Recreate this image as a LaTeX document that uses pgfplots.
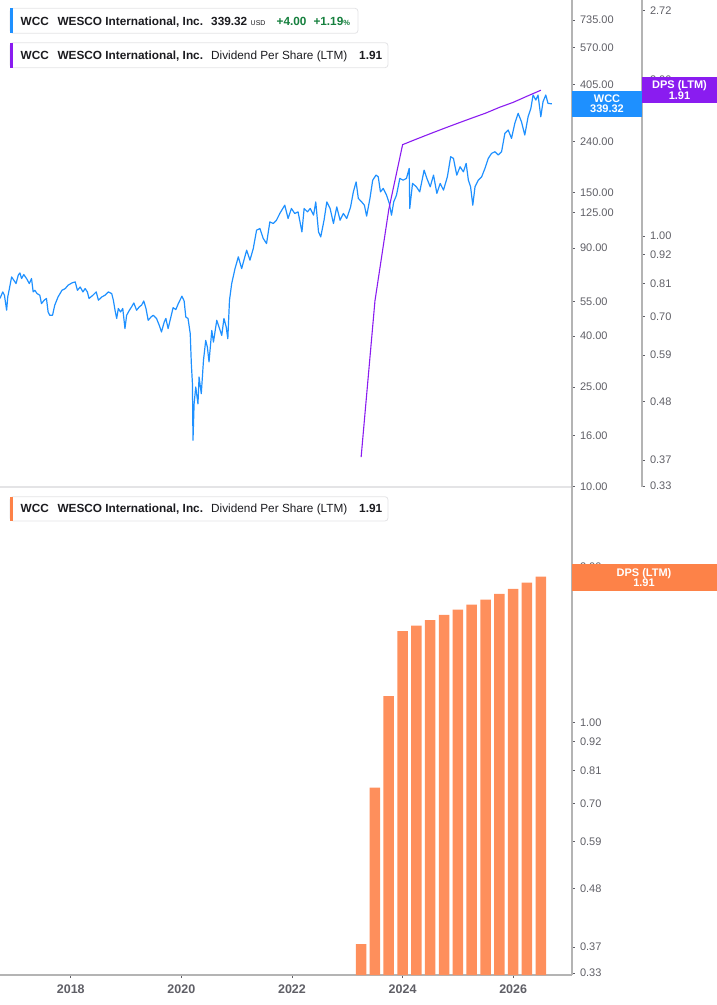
\documentclass[border=0pt]{standalone}
\usepackage{pgfplots}
\usepackage{pgfplotstable}
\pgfplotsset{compat=1.18}
\usepackage{fontspec}
\setmainfont{Liberation Sans}

\definecolor{wblue}{RGB}{30,144,255}
\definecolor{dpspurple}{RGB}{138,28,240}
\definecolor{baror}{RGB}{254,143,92}
\definecolor{boxor}{RGB}{253,130,72}
\definecolor{axgray}{RGB}{180,180,180}
\definecolor{lblgray}{RGB}{95,95,102}
\definecolor{upgreen}{RGB}{22,128,62}
\definecolor{txt}{RGB}{28,28,32}
\definecolor{boxline}{RGB}{228,228,230}

% WCC share price (USD)
\pgfplotstableread{
year price
2016.72 56.5
2016.77 60.0
2016.80 58.2
2016.84 50.7
2016.86 57.3
2016.89 61.9
2016.93 68.9
2016.97 66.8
2017.01 64.8
2017.05 70.0
2017.08 71.5
2017.11 67.9
2017.15 70.4
2017.20 67.9
2017.25 64.8
2017.29 67.9
2017.32 60.0
2017.35 60.9
2017.39 59.1
2017.44 58.2
2017.47 53.9
2017.52 55.6
2017.56 56.5
2017.59 49.9
2017.62 48.4
2017.67 48.4
2017.71 53.1
2017.77 57.3
2017.84 60.9
2017.90 61.9
2017.95 63.8
2018.02 65.2
2018.08 65.8
2018.12 60.9
2018.17 62.8
2018.22 60.0
2018.26 61.9
2018.30 60.0
2018.33 56.5
2018.40 58.2
2018.46 60.0
2018.50 55.6
2018.56 57.3
2018.62 58.2
2018.68 60.0
2018.74 59.1
2018.77 55.6
2018.80 50.7
2018.83 47.0
2018.86 51.5
2018.90 49.9
2018.94 51.5
2018.98 42.8
2019.01 48.4
2019.06 50.7
2019.10 52.3
2019.14 54.2
2019.19 50.7
2019.24 52.3
2019.28 53.1
2019.32 55.2
2019.36 51.5
2019.40 46.2
2019.45 47.6
2019.49 48.4
2019.55 47.0
2019.60 44.1
2019.64 41.5
2019.69 45.5
2019.72 47.0
2019.76 42.8
2019.81 47.6
2019.85 51.9
2019.90 51.0
2019.94 53.6
2020.01 57.7
2020.05 55.2
2020.08 47.6
2020.12 47.0
2020.16 40.9
2020.18 31.0
2020.20 25.8
2020.21 15.3
2020.23 21.4
2020.26 25.0
2020.30 21.4
2020.32 27.4
2020.36 23.5
2020.40 32.0
2020.44 38.4
2020.47 36.1
2020.50 31.5
2020.55 42.1
2020.58 37.8
2020.64 46.2
2020.68 43.5
2020.73 40.2
2020.77 47.0
2020.81 43.5
2020.84 39.0
2020.87 55.6
2020.91 64.8
2020.97 74.4
2021.03 82.9
2021.09 74.4
2021.18 88.1
2021.24 80.4
2021.30 89.5
2021.36 106.0
2021.42 107.6
2021.48 98.2
2021.54 93.7
2021.60 114.4
2021.66 112.7
2021.72 116.2
2021.78 123.6
2021.87 133.4
2021.93 118.0
2021.99 129.4
2022.05 123.6
2022.11 125.5
2022.18 104.3
2022.22 129.4
2022.28 125.5
2022.33 129.4
2022.39 121.7
2022.43 137.5
2022.48 104.3
2022.52 99.6
2022.58 116.2
2022.63 137.5
2022.69 129.4
2022.75 112.7
2022.81 131.3
2022.87 116.2
2022.93 123.6
2022.99 118.0
2023.06 131.3
2023.11 150.8
2023.16 165.4
2023.20 142.0
2023.26 137.5
2023.31 133.4
2023.35 120.6
2023.41 142.0
2023.46 168.0
2023.52 176.0
2023.56 173.3
2023.60 150.8
2023.65 155.7
2023.71 146.4
2023.76 135.6
2023.80 121.7
2023.84 137.5
2023.89 146.4
2023.95 170.7
2024.01 168.0
2024.07 170.7
2024.12 187.2
2024.13 129.4
2024.18 163.0
2024.25 158.0
2024.31 150.8
2024.39 184.3
2024.44 170.7
2024.50 158.0
2024.56 176.0
2024.62 148.7
2024.68 163.0
2024.74 153.3
2024.81 173.3
2024.87 208.4
2024.92 205.3
2024.98 176.0
2025.04 190.0
2025.10 181.4
2025.15 196.1
2025.19 168.0
2025.23 158.0
2025.27 133.4
2025.31 158.0
2025.37 168.0
2025.43 173.3
2025.49 187.2
2025.55 205.3
2025.61 215.0
2025.67 218.2
2025.73 211.7
2025.79 218.2
2025.85 258.5
2025.91 266.5
2025.97 246.9
2026.03 283.5
2026.09 310.9
2026.15 287.7
2026.21 254.5
2026.27 301.2
2026.32 325.6
2026.36 368.0
2026.41 351.4
2026.45 368.0
2026.50 301.3
2026.54 345.9
2026.59 368.0
2026.63 340.9
2026.70 339.32
}\pricetable

% Dividend per share, last twelve months
\pgfplotstableread{
year dps
2023.25 0.375
2023.50 0.75
2023.75 1.125
2024.00 1.50
2024.25 1.5375
2024.50 1.575
2024.75 1.6125
2025.00 1.65
2025.25 1.6875
2025.50 1.725
2025.75 1.77
2026.00 1.81
2026.25 1.86
2026.50 1.91
}\dpstable

\pgfplotsset{
  rightax/.style={
    scale only axis,
    xmin=2016.72,
    y axis line style={-, draw=axgray, line width=1.6pt},
    tick align=outside,
    major tick length=3pt,
    ytick style={draw=lblgray, line width=0.8pt},
    yticklabel style={font=\fontsize{11}{12}\selectfont, text=lblgray, anchor=west, xshift=1.5pt},
  },
}

\begin{document}
\begin{tikzpicture}[x=1pt,y=1pt]
\useasboundingbox (0,0) rectangle (717,-1005);

% top panel, share price
\begin{axis}[rightax,
  ymode=log,
  axis y line*=right,
  axis x line=none,
  at={(0pt,0pt)}, anchor=north west,
  width=572pt, height=487pt,
  xmax=2027.064,
  ymin=9.95, ymax=883,
  ytick={10,16,25,40,55,90,125,150,240,405,570,735},
  yticklabels={10.00,16.00,25.00,40.00,55.00,90.00,125.00,150.00,240.00,405.00,570.00,735.00},
]
\addplot[wblue, line width=1.2pt, line join=round] table[x=year, y=price] {\pricetable};
\end{axis}

% top panel, dividend per share line on its own scale
\begin{axis}[rightax,
  ymode=log,
  axis y line*=right,
  axis x line=none,
  at={(0pt,0pt)}, anchor=north west,
  width=642pt, height=487pt,
  xmax=2028.329,
  ymin=0.3284, ymax=2.85,
  ytick={0.33,0.37,0.48,0.59,0.70,0.81,0.92,1.00,2.00,2.72},
  yticklabels={0.33,0.37,0.48,0.59,0.70,0.81,0.92,1.00,2.00,2.72},
]
\addplot[dpspurple, line width=1.1pt] table[x=year, y=dps] {\dpstable};
\end{axis}

% bottom panel, dividend bars
\begin{axis}[rightax,
  ymode=log,
  axis y line*=right,
  axis x line*=bottom,
  at={(0pt,-487pt)}, anchor=north west,
  width=572pt, height=488pt,
  xmax=2027.064,
  ymin=0.327, ymax=2.842,
  log origin=infty,
  x axis line style={-, draw=axgray, line width=1.8pt},
  xtick={2018,2020,2022,2024,2026},
  xticklabels={2018,2020,2022,2024,2026},
  xtick style={draw=lblgray, line width=0.8pt},
  xticklabel style={font=\bfseries\fontsize{12.5}{13}\selectfont, text=lblgray, yshift=-3pt},
  ytick={0.33,0.37,0.48,0.59,0.70,0.81,0.92,1.00,2.00},
  yticklabels={0.33,0.37,0.48,0.59,0.70,0.81,0.92,1.00,2.00},
]
\addplot[ybar, bar width=10.5pt, fill=baror, draw=none] table[x=year, y=dps] {\dpstable};
\end{axis}

% separator between panels
\draw[boxline, line width=1.5pt] (0,-487) -- (571,-487);

% legend boxes
\begin{scope}[font=\fontsize{11.8}{14}\selectfont, text=txt]
\draw[boxline, fill=white, rounded corners=3pt, line width=0.8pt] (10,-8.3) rectangle (358,-33.3);
\fill[wblue] (10,-8.3) rectangle (13,-33.3);
\node[anchor=base west, inner sep=0] at (20.5,-25) {\bfseries WCC};
\node[anchor=base west, inner sep=0] at (57.3,-25) {\bfseries WESCO International, Inc.};
\node[anchor=base west, inner sep=0] at (211,-25) {\bfseries 339.32};
\node[anchor=base west, inner sep=0] at (250.5,-25) {\fontsize{7}{8}\selectfont USD};
\node[anchor=base west, inner sep=0, text=upgreen] at (276.5,-25) {\bfseries +4.00};
\node[anchor=base west, inner sep=0, text=upgreen] at (313.3,-25) {\bfseries +1.19{\fontsize{7.5}{8}\selectfont\%}};

\draw[boxline, fill=white, rounded corners=3pt, line width=0.8pt] (10,-42.7) rectangle (388,-67.7);
\fill[dpspurple] (10,-42.7) rectangle (13,-67.7);
\node[anchor=base west, inner sep=0] at (20.5,-59.3) {\bfseries WCC};
\node[anchor=base west, inner sep=0] at (57.3,-59.3) {\bfseries WESCO International, Inc.};
\node[anchor=base west, inner sep=0] at (211,-59.3) {Dividend Per Share (LTM)};
\node[anchor=base west, inner sep=0] at (359,-59.3) {\bfseries 1.91};

\draw[boxline, fill=white, rounded corners=3pt, line width=0.8pt] (10,-496.7) rectangle (388,-521);
\fill[boxor] (10,-496.7) rectangle (13,-521);
\node[anchor=base west, inner sep=0] at (20.5,-512.5) {\bfseries WCC};
\node[anchor=base west, inner sep=0] at (57.3,-512.5) {\bfseries WESCO International, Inc.};
\node[anchor=base west, inner sep=0] at (211,-512.5) {Dividend Per Share (LTM)};
\node[anchor=base west, inner sep=0] at (359,-512.5) {\bfseries 1.91};
\end{scope}

% last value labels on the scales
\begin{scope}[font=\bfseries\fontsize{11}{11}\selectfont, text=white]
\fill[wblue] (572,-90.7) rectangle (642,-116.7);
\node[align=center, inner sep=0] at (607,-103.7) {WCC\\[-0.5pt]339.32};
\fill[dpspurple] (642,-77.3) rectangle (717,-102.7);
\node[align=center, inner sep=0] at (679.5,-90) {DPS (LTM)\\[-0.5pt]1.91};
\fill[boxor] (572,-564.3) rectangle (717,-590.7);
\node[align=center, inner sep=0] at (644,-577.5) {DPS (LTM)\\[-0.5pt]1.91};
\end{scope}
\end{tikzpicture}
\end{document}
